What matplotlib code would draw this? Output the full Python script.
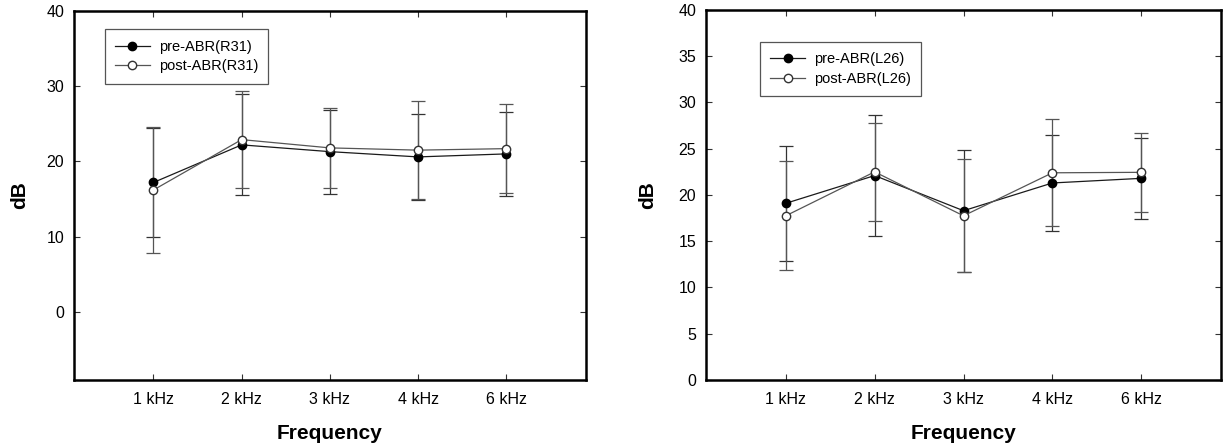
import matplotlib
matplotlib.use('Agg')
import matplotlib.pyplot as plt
from matplotlib.lines import Line2D

plt.rcParams['font.family'] = ['Liberation Sans', 'DejaVu Sans']

freqs = ['1 kHz', '2 kHz', '3 kHz', '4 kHz', '6 kHz']
xpos = [1, 2, 3, 4, 5]

# left panel (R31)
pre_r = [17.2, 22.2, 21.3, 20.6, 21.0]
pre_r_sd = [7.25, 6.7, 5.6, 5.7, 5.6]
post_r = [16.2, 22.9, 21.8, 21.5, 21.7]
post_r_sd = [8.35, 6.5, 5.3, 6.5, 5.9]

# right panel (L26)
pre_l = [19.1, 22.1, 18.3, 21.3, 21.8]
pre_l_sd = [6.25, 6.55, 6.6, 5.2, 4.35]
post_l = [17.75, 22.5, 17.75, 22.4, 22.45]
post_l_sd = [5.9, 5.3, 6.1, 5.8, 4.3]

fig = plt.figure(figsize=(12.24, 4.48), dpi=100)
ax1 = fig.add_axes([0.0605, 0.1529, 0.418, 0.8225])
ax2 = fig.add_axes([0.5766, 0.1518, 0.4212, 0.8259])

pre_style = dict(color='#1a1a1a', lw=0.9, marker='o', ms=6, mfc='black', mec='black')
post_style = dict(color='#555555', lw=0.9, marker='o', ms=6, mfc='white', mec='#333333')


def panel(ax, pre, pre_sd, post, post_sd, tag, ylim, yticks, legend_xy, ylab_x):
    ax.errorbar(xpos, pre, yerr=pre_sd, ecolor='#333333',
                elinewidth=0.9, capsize=5, capthick=0.9, **pre_style)
    ax.errorbar(xpos, post, yerr=post_sd, ecolor='#555555',
                elinewidth=0.9, capsize=5, capthick=0.9, **post_style)
    ax.set_xlim(0.1, 5.9)
    ax.set_ylim(*ylim)
    ax.set_xticks(xpos)
    ax.set_xticklabels(freqs)
    ax.set_yticks(yticks)
    ax.tick_params(direction='in', length=4, width=0.8, top=True, right=True,
                   labelsize=11.5, color='#333333')
    ax.tick_params(axis='x', pad=9)
    ax.tick_params(axis='y', pad=7)
    for s in ax.spines.values():
        s.set_linewidth(1.8)
    ax.set_xlabel('Frequency', fontsize=15, fontweight='bold')
    ax.set_ylabel('dB', fontsize=15, fontweight='bold')
    ax.xaxis.set_label_coords(0.5, -0.12)
    ax.yaxis.set_label_coords(ylab_x, 0.5)
    handles = [Line2D([], [], **pre_style), Line2D([], [], **post_style)]
    labels = ['pre-ABR(%s)' % tag, 'post-ABR(%s)' % tag]
    leg = ax.legend(handles, labels, loc='upper left', bbox_to_anchor=legend_xy,
                    fontsize=10.5, fancybox=False, framealpha=1, edgecolor='#555555',
                    handlelength=2.4, borderpad=0.7, labelspacing=0.4,
                    borderaxespad=0, handletextpad=0.6)
    leg.get_frame().set_linewidth(0.9)


panel(ax1, pre_r, pre_r_sd, post_r, post_r_sd, 'R31', (-9, 40),
      [0, 10, 20, 30, 40], (0.06, 0.95), -0.088)
panel(ax2, pre_l, pre_l_sd, post_l, post_l_sd, 'L26', (0, 40),
      [0, 5, 10, 15, 20, 25, 30, 35, 40], (0.105, 0.914), -0.094)

plt.savefig('out.png', dpi=100)
